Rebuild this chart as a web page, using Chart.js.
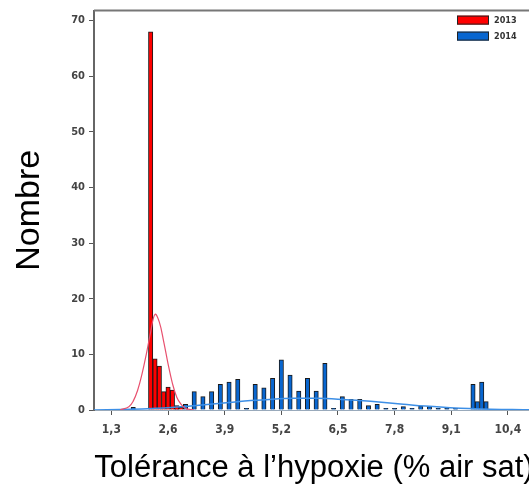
<!DOCTYPE html>
<html>
<head>
<meta charset="utf-8">
<script src="https://cdn.jsdelivr.net/npm/chart.js@4.4.1/dist/chart.umd.min.js"></script>
<style>
html, body { margin: 0; padding: 0; overflow: hidden; background: #fff; }
</style>
</head>
<body>
<canvas id="chart" width="560" height="487"></canvas>
<script>
// Histogramme 2013 (classes de 0,1)
const x2013 = [2.2, 2.3, 2.4, 2.5, 2.6, 2.7, 2.8, 2.9];
const n2013 = [68, 9.2, 7.9, 3.3, 4.1, 3.6, 0.8, 0.5];

// Histogramme 2014
const x2014 = [1.8, 2.8, 3.0, 3.2, 3.4, 3.6, 3.8, 4.0, 4.2, 4.4, 4.6, 4.8, 5.0, 5.2, 5.4, 5.6, 5.8, 6.0,
               6.2, 6.4, 6.6, 6.8, 7.0, 7.2, 7.4, 7.6, 7.8, 8.0, 8.2, 8.4, 8.6, 8.8, 9.0, 9.2,
               9.6, 9.7, 9.8, 9.9];
const n2014 = [0.5, 0.4, 1.0, 3.3, 2.4, 3.3, 4.6, 5.0, 5.5, 0.3, 4.6, 4.0, 5.7, 9.0, 6.3, 3.4, 5.7, 3.4,
               8.4, 0.3, 2.4, 1.9, 1.9, 0.8, 1.0, 0.3, 0.3, 0.6, 0.3, 0.7, 0.6, 0.3, 0.3, 0.3,
               4.6, 1.5, 5.0, 1.5];

// Courbes ajustées
const courbeX2013 = [1.5, 1.7, 1.8, 1.9, 2.0, 2.1, 2.2, 2.3, 2.4, 2.5, 2.6, 2.7, 2.8, 2.9, 3.0, 3.2];
const courbeY2013 = [0, 0.6, 1.6, 3.5, 6.4, 10.0, 14.0, 17.2, 15.8, 12.3, 8.3, 4.8, 2.3, 1.0, 0.3, 0];
const courbeX2014 = [0.9, 1.5, 2.0, 2.5, 3.0, 3.5, 4.0, 4.5, 5.0, 5.5, 6.0, 6.5, 7.0, 7.5, 8.0, 8.5, 9.0, 9.5, 10.0, 10.5, 11.0];
const courbeY2014 = [0.02, 0.1, 0.2, 0.35, 0.65, 1.0, 1.35, 1.7, 1.95, 2.1, 2.1, 1.95, 1.7, 1.4, 1.05, 0.7, 0.45, 0.25, 0.15, 0.07, 0.03];

// Graduations
const xTicks = [1.3, 2.6, 3.9, 5.2, 6.5, 7.8, 9.1, 10.4];
const xTickLabels = ['1,3', '2,6', '3,9', '5,2', '6,5', '7,8', '9,1', '10,4'];
const yTicks = [0, 10, 20, 30, 40, 50, 60, 70];

function points(xs, ys) {
    return xs.map((x, i) => ({ x: x, y: ys[i] }));
}

// Cadre du haut + légende dans la zone du graphique
const cadrePlugin = {
    id: 'cadrePlugin',
    afterDraw(chart) {
        const { ctx, chartArea: { left, right, top } } = chart;
        ctx.save();
        ctx.strokeStyle = '#777';
        ctx.lineWidth = 2;
        ctx.beginPath();
        ctx.moveTo(left, top);
        ctx.lineTo(right, top);
        ctx.stroke();

        let y = top + 5;
        ctx.font = 'bold 9px "DejaVu Sans Condensed"';
        ctx.textBaseline = 'middle';
        chart.data.datasets.filter(d => d.type === 'bar').forEach(d => {
            const bx = right - 77;
            ctx.fillStyle = d.backgroundColor;
            ctx.fillRect(bx, y, 32, 9);
            ctx.strokeStyle = '#222';
            ctx.lineWidth = 1;
            ctx.strokeRect(bx + 0.5, y + 0.5, 31, 8);
            ctx.fillStyle = '#333';
            ctx.fillText(d.label, bx + 37, y + 5);
            y += 16;
        });
        ctx.restore();
    }
};

const tickFont = { family: '"DejaVu Sans Condensed"', size: 11, weight: 'bold' };

new Chart(document.getElementById('chart'), {
    type: 'bar',
    data: {
        datasets: [
            {
                type: 'line',
                label: 'ajust2013',
                data: points(courbeX2013, courbeY2013),
                borderColor: '#e8506e',
                borderWidth: 1.2,
                pointRadius: 0,
                tension: 0.4,
                order: 0
            },
            {
                type: 'line',
                label: 'ajust2014',
                data: points(courbeX2014, courbeY2014),
                borderColor: '#3d8fe6',
                borderWidth: 1.5,
                pointRadius: 0,
                tension: 0.4,
                order: 0
            },
            {
                type: 'bar',
                label: '2013',
                data: points(x2013, n2013),
                backgroundColor: '#ff0000',
                borderColor: '#1a1a1a',
                borderWidth: 1,
                grouped: false,
                barPercentage: 1,
                categoryPercentage: 1,
                order: 1
            },
            {
                type: 'bar',
                label: '2014',
                data: points(x2014, n2014),
                backgroundColor: '#0866d0',
                borderColor: '#1a1a1a',
                borderWidth: 1,
                grouped: false,
                barPercentage: 1,
                categoryPercentage: 1,
                order: 2
            }
        ]
    },
    options: {
        responsive: false,
        animation: false,
        layout: { padding: { top: 10, right: 26, left: 0, bottom: 0 } },
        plugins: {
            legend: { display: false },
            tooltip: { enabled: false }
        },
        scales: {
            x: {
                type: 'linear',
                min: 0.9,
                max: 11.0,
                offset: false,
                afterBuildTicks(scale) {
                    scale.ticks = xTicks.map(v => ({ value: v }));
                },
                afterFit(scale) {
                    scale.height = 77;
                },
                ticks: {
                    font: { family: '"DejaVu Sans Condensed"', size: 12, weight: 'bold' },
                    color: '#444',
                    padding: 8,
                    maxRotation: 0,
                    callback: (v, i) => xTickLabels[i]
                },
                grid: { display: true, drawOnChartArea: false, offset: false, tickLength: 5, color: '#555' },
                border: { color: '#99aabb', width: 1 },
                title: {
                    display: true,
                    text: 'Tolérance à l’hypoxie (% air sat)',
                    font: { family: '"Liberation Sans", Arial', size: 31 },
                    color: '#000',
                    padding: { top: 0, bottom: 0 }
                }
            },
            y: {
                min: 0,
                max: 71.8,
                afterBuildTicks(scale) {
                    scale.ticks = yTicks.map(v => ({ value: v }));
                },
                afterFit(scale) {
                    scale.width = 94;
                },
                ticks: {
                    font: tickFont,
                    color: '#444',
                    padding: 4
                },
                grid: { display: true, drawOnChartArea: false, tickLength: 5, color: '#555' },
                border: { color: '#666', width: 2 },
                title: {
                    display: true,
                    text: 'Nombre',
                    font: { family: '"Liberation Sans", Arial', size: 34 },
                    color: '#000',
                    padding: { top: 9, bottom: 0 }
                }
            }
        }
    },
    plugins: [cadrePlugin]
});
</script>
</body>
</html>
